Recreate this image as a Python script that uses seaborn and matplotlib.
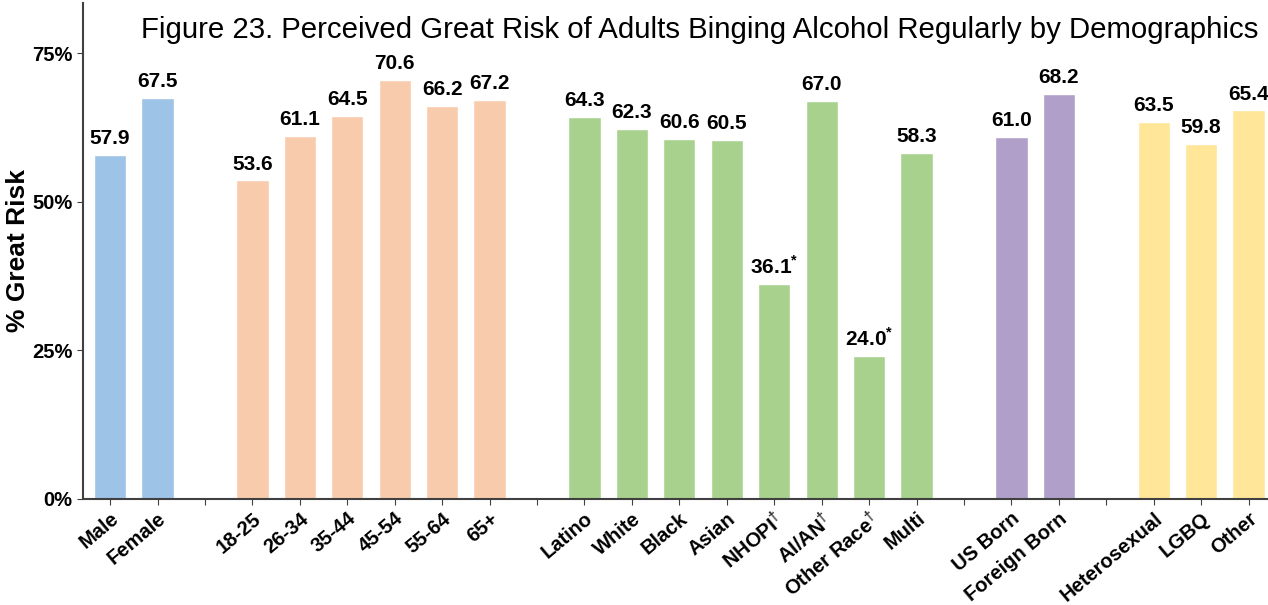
import pandas as pd
import matplotlib
matplotlib.use('Agg')
import matplotlib.pyplot as plt
import seaborn as sns
from matplotlib.ticker import FuncFormatter

# slots on the x axis, gaps are empty slots between groups
slots = ['Male', 'Female', 'gap1',
         '18-25', '26-34', '35-44', '45-54', '55-64', '65+', 'gap2',
         'Latino', 'White', 'Black', 'Asian', 'NHOPI', 'AI/AN', 'Other Race', 'Multi', 'gap3',
         'US Born', 'Foreign Born', 'gap4',
         'Heterosexual', 'LGBQ', 'Other']
tick_labels = ['Male', 'Female', '',
               '18-25', '26-34', '35-44', '45-54', '55-64', '65+', '',
               'Latino', 'White', 'Black', 'Asian', r'NHOPI$^{\dagger}$', r'AI/AN$^{\dagger}$',
               r'Other Race$^{\dagger}$', 'Multi', '',
               'US Born', 'Foreign Born', '',
               'Heterosexual', 'LGBQ', 'Other']

gender = ['Male', 'Female']
gender_vals = [57.9, 67.5]
age = ['18-25', '26-34', '35-44', '45-54', '55-64', '65+']
age_vals = [53.6, 61.1, 64.5, 70.6, 66.2, 67.2]
race = ['Latino', 'White', 'Black', 'Asian', 'NHOPI', 'AI/AN', 'Other Race', 'Multi']
race_vals = [64.3, 62.3, 60.6, 60.5, 36.1, 67.0, 24.0, 58.3]
nativity = ['US Born', 'Foreign Born']
nativity_vals = [61.0, 68.2]
orientation = ['Heterosexual', 'LGBQ', 'Other']
orientation_vals = [63.5, 59.8, 65.4]
flagged = ['NHOPI', 'Other Race']  # values marked with *

colors = {'gender': '#9DC3E6', 'age': '#F8CBAD', 'race': '#A9D18E',
          'nativity': '#B09FC8', 'orientation': '#FFE699'}

groups = [('gender', gender, gender_vals), ('age', age, age_vals), ('race', race, race_vals),
          ('nativity', nativity, nativity_vals), ('orientation', orientation, orientation_vals)]
rows = []
for g, cats, vals in groups:
    for c, v in zip(cats, vals):
        rows.append({'label': c, 'value': v, 'group': g})
df = pd.DataFrame(rows)

sns.set_style('ticks')
plt.rcParams['font.family'] = ['Liberation Sans', 'DejaVu Sans']
plt.rcParams['text.color'] = 'black'
plt.rcParams['axes.labelcolor'] = 'black'
plt.rcParams['mathtext.fontset'] = 'custom'
plt.rcParams['mathtext.rm'] = 'Liberation Sans'
plt.rcParams['mathtext.bf'] = 'Liberation Sans:bold'

fig = plt.figure(figsize=(12.68, 6.05), dpi=100)
ax = fig.add_axes([0.0655, 0.176, 0.9345, 0.819])
sns.barplot(data=df, x='label', y='value', hue='group', order=slots, palette=colors,
            width=0.68, dodge=False, legend=False, saturation=1, ax=ax)

for _, r in df.iterrows():
    txt = f"{r['value']:.1f}"
    if r['label'] in flagged:
        txt += r'$^{\mathbf{*}}$'
    ax.text(slots.index(r['label']), r['value'] + 1.1, txt, ha='center', va='bottom',
            fontsize=15, fontweight='bold', color='black')

ax.set_ylim(0, 83.5)
ax.set_xlim(-0.57, 24.41)
ax.set_yticks([0, 25, 50, 75])
ax.yaxis.set_major_formatter(FuncFormatter(lambda v, p: f'{v:.0f}%'))
ax.set_xticks(range(len(slots)))
ax.set_xticklabels(tick_labels, rotation=40, ha='right', rotation_mode='anchor')
for lbl in ax.get_xticklabels():
    lbl.set_fontweight('bold')
    lbl.set_fontsize(14.5)
    lbl.set_color('black')
for lbl in ax.get_yticklabels():
    lbl.set_fontweight('bold')
    lbl.set_fontsize(14.5)
    lbl.set_color('black')
ax.set_xlabel('')
ax.set_ylabel('% Great Risk', fontsize=19, fontweight='bold', color='black')
ax.yaxis.set_label_coords(-0.045, 0.5)
ax.tick_params(colors='#404040', labelcolor='black', length=4)
for s in ['left', 'bottom']:
    ax.spines[s].set_color('#404040')
    ax.spines[s].set_linewidth(1.5)
sns.despine(ax=ax)

fig.text(0.552, 0.95, 'Figure 23. Perceived Great Risk of Adults Binging Alcohol Regularly by Demographics',
         ha='center', va='center', fontsize=21.2, color='black')

fig.savefig('out.png', dpi=100)
